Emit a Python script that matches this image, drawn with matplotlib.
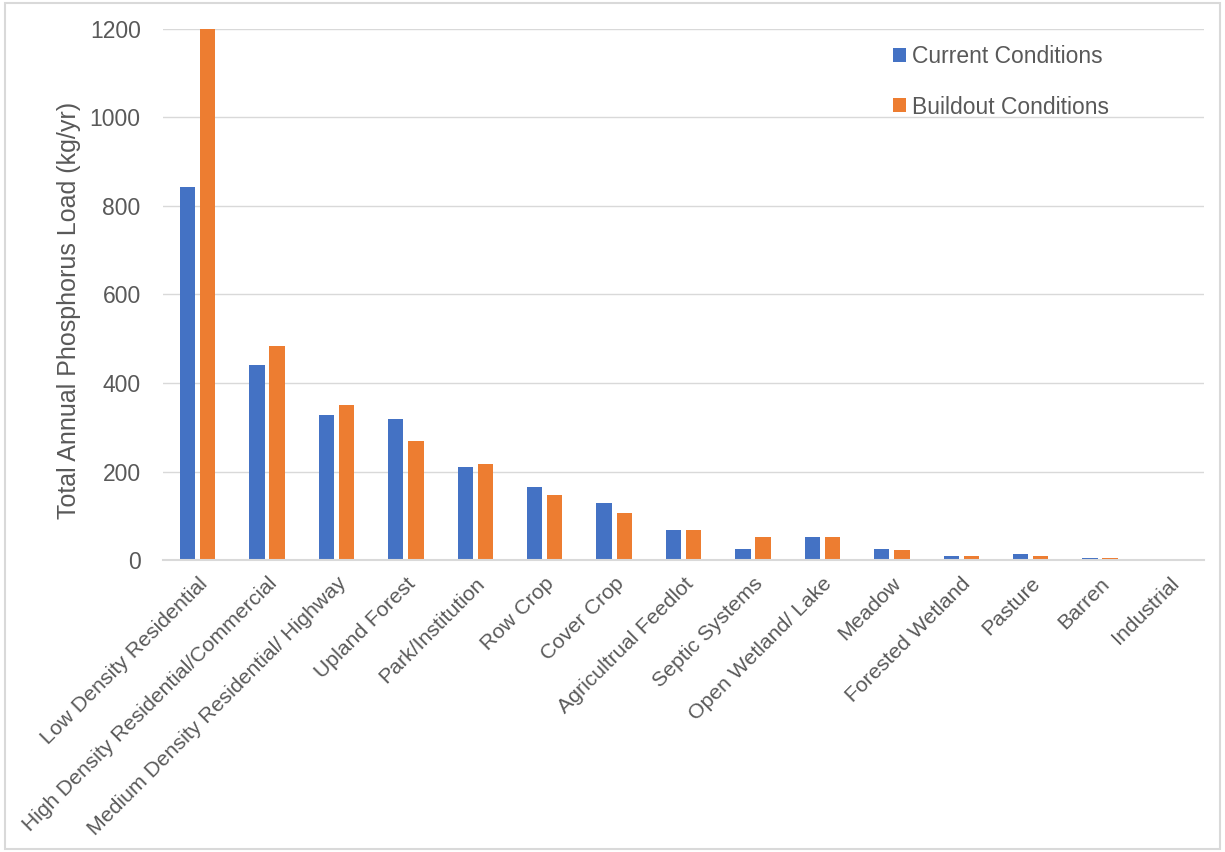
import matplotlib

matplotlib.use("Agg")
import matplotlib.pyplot as plt
import numpy as np
from matplotlib.patches import Rectangle

categories = [
    "Low Density Residential",
    "High Density Residential/Commercial",
    "Medium Density Residential/ Highway",
    "Upland Forest",
    "Park/Institution",
    "Row Crop",
    "Cover Crop",
    "Agricultrual Feedlot",
    "Septic Systems",
    "Open Wetland/ Lake",
    "Meadow",
    "Forested Wetland",
    "Pasture",
    "Barren",
    "Industrial",
]
current = [843, 441, 328, 319, 210, 165, 129, 68, 26, 51, 26, 10, 13, 4, 1]
buildout = [1200, 484, 350, 269, 217, 147, 106, 68, 51, 51, 23, 10, 10, 4, 1]
series_names = ["Current Conditions", "Buildout Conditions"]
y_ticks = [0, 200, 400, 600, 800, 1000, 1200]

BLUE = "#4472C4"
ORANGE = "#ED7D31"
TEXT = "#595959"
GRID = "#D9D9D9"

plt.rcParams["font.family"] = ["Liberation Sans", "DejaVu Sans"]

fig = plt.figure(figsize=(12.25, 8.52), dpi=100)
fig.patches.append(
    Rectangle((0.004, 0.004), 0.992, 0.992, transform=fig.transFigure,
              fill=False, edgecolor=GRID, linewidth=1.5)
)
ax = fig.add_axes([0.133, 0.3427, 0.85, 0.6233])

x = np.arange(len(categories))
width = 0.22
ax.bar(x - 0.145, current, width, color=BLUE, label=series_names[0])
ax.bar(x + 0.145, buildout, width, color=ORANGE, label=series_names[1])

ax.set_xlim(-0.5, len(categories) - 0.5)
ax.set_ylim(0, 1200)
ax.set_yticks(y_ticks)
ax.set_yticklabels([str(v) for v in y_ticks], fontsize=16.5, color=TEXT)
ax.set_xticks(x)
ax.set_xticklabels(categories, rotation=45, ha="right", rotation_mode="anchor",
                   fontsize=15.3, color=TEXT)
ax.tick_params(axis="both", length=0)
ax.tick_params(axis="y", pad=16)
ax.tick_params(axis="x", pad=10)
ax.set_ylabel("Total Annual Phosphorus Load (kg/yr)", fontsize=18, color=TEXT)
ax.yaxis.set_label_coords(-0.0785, 0.47)

ax.grid(axis="y", color=GRID, linewidth=1)
ax.set_axisbelow(True)
for side in ["top", "right", "left"]:
    ax.spines[side].set_visible(False)
ax.spines["bottom"].set_color(GRID)
ax.spines["bottom"].set_linewidth(1.5)

leg = ax.legend(loc="upper left", bbox_to_anchor=(0.686, 1.0), frameon=False,
                fontsize=16.5, handlelength=0.55, handleheight=0.55, handletextpad=0.25,
                labelspacing=1.2, borderaxespad=0.3)
for t in leg.get_texts():
    t.set_color(TEXT)

fig.savefig("out.png", dpi=100)
